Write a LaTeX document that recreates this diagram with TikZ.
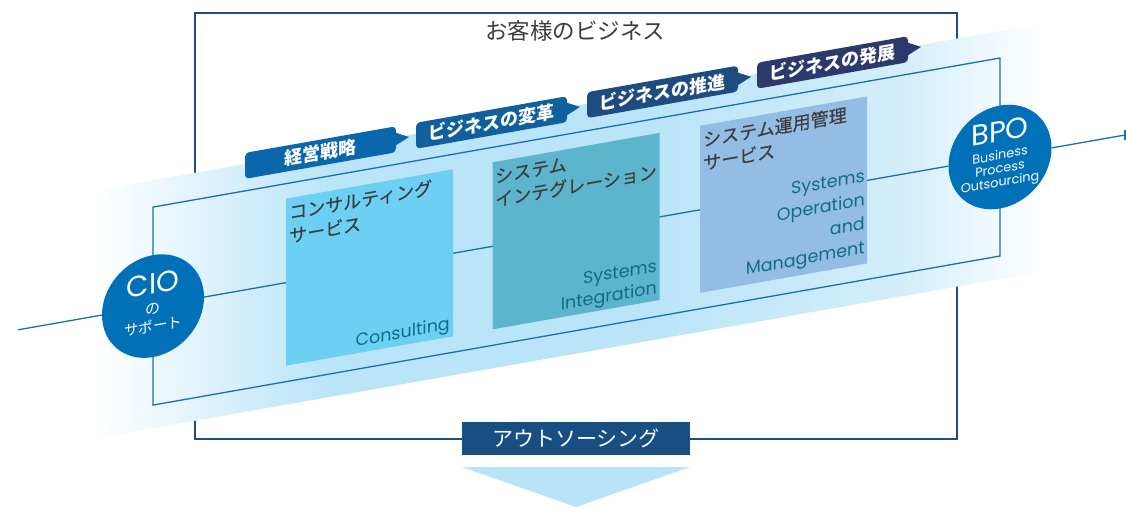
\documentclass[tikz,border=0pt]{standalone}
\usepackage{fontspec}
\setmainfont{Poppins}
\newfontfamily\jp{Noto Sans CJK JP}
\newfontfamily\jpm[FakeBold=0.4]{Noto Sans CJK JP}
\newfontfamily\en{Poppins}
\definecolor{outerc}{HTML}{1D4F84}
\definecolor{linec}{HTML}{1A6EB6}
\definecolor{bandc}{HTML}{BAE4F8}
\definecolor{bandr}{HTML}{D3EEFA}
\definecolor{circc}{HTML}{0070B9}
\definecolor{consc}{HTML}{6CCFF4}
\definecolor{sic}{HTML}{5CB4CD}
\definecolor{soc}{HTML}{93BDE5}
\definecolor{tagA}{HTML}{0B67AB}
\definecolor{tagB}{HTML}{11609E}
\definecolor{tagC}{HTML}{1F4C80}
\definecolor{tagD}{HTML}{2B3A6B}
\definecolor{jtext}{HTML}{3D3D3D}
\definecolor{etext}{HTML}{0F6E87}
\definecolor{outbox}{HTML}{184F82}
\definecolor{arrowc}{HTML}{B9E4F8}
\pgfdeclarehorizontalshading{bandshade}{100bp}{color(0bp)=(white); color(25bp)=(white); color(37.4bp)=(bandc); color(53.7bp)=(bandc); color(67.4bp)=(bandr); color(75bp)=(white); color(100bp)=(white)}
\tikzset{
 jtitle/.style={inner sep=0, text=jtext, font=\jpm\fontsize{18}{18}\selectfont},
 etitle/.style={inner sep=0, text=etext, font=\en\fontsize{17.5}{17.5}\selectfont},
 svcbox/.style={rectangle, minimum width=167pt, minimum height=167pt, inner sep=0},
 tagbox/.style={rectangle, rounded corners=4pt, minimum width=151pt, minimum height=26pt, inner sep=0, text=white, font=\jp\bfseries\fontsize{18}{18}\selectfont},
 hub/.style={circle, fill=circc, inner sep=0},
 conn/.style={draw=linec, line width=1.3pt},
 wtext/.style={inner sep=0, text=white}
}
\newcommand{\stackline}[2]{\makebox[0pt]{\raisebox{#1}{#2}}}
\begin{document}
\begin{tikzpicture}[x=1pt,y=-1pt]
\useasboundingbox (0,0) rectangle (1126,507);
% outer frame
\draw[outerc, line width=2pt] (194.5,13) rectangle (957,438.5);
\node[inner sep=0, text=jtext, font=\jp\fontsize{22.5}{22.5}\selectfont] (title) at (575,31) {お客様のビジネス};

\begin{scope}[yslant=0.176, transform shape]
 \shade[shading=bandshade] (95,207) rectangle (1045,455);
 \draw[conn] (153,234) rectangle (1000,432);
 \node[hub, minimum size=102pt] (cio) at (153,333) {};
 \node[hub, minimum size=103pt] (bpo) at (1000,333) {};
 \coordinate (lend) at (18,333);
 \coordinate (rend) at (1125,333);
 \coordinate (rtop) at (1125,328);
 \coordinate (rbot) at (1125,338);
 \draw[conn] (lend) -- (cio);
 \draw[conn] (cio) -- (bpo);
 \draw[conn] (bpo) -- (rend);
 \draw[conn] (rtop) -- (rbot);
 % hub texts
 \node[wtext, anchor=base] (ciot) at (153,340.7) {\stackline{19.7pt}{\en\fontsize{29}{29}\selectfont CIO}\stackline{0pt}{\jp\fontsize{15}{15}\selectfont の}\stackline{-17.8pt}{\jp\fontsize{14.5}{14.5}\selectfont サポート}};
 \node[wtext, anchor=base] (bpot) at (1000,349) {\stackline{31.4pt}{\en\fontsize{29}{29}\selectfont BPO}\stackline{13.5pt}{\en\fontsize{12.8}{12.8}\selectfont Business}\stackline{0pt}{\en\fontsize{12.8}{12.8}\selectfont Process}\stackline{-13.5pt}{\en\fontsize{12.8}{12.8}\selectfont Outsourcing}};
 % service boxes
 \node[svcbox, fill=consc] (cons) at (369.5,332.5) {};
 \node[svcbox, fill=sic] (si) at (576,332.5) {};
 \node[svcbox, fill=soc] (so) at (783.5,332.5) {};
 \node[jtitle, anchor=base west] (cons1) at (289,270.3) {コンサルティング};
 \node[jtitle, anchor=base west] (cons2) at (289,293.8) {サービス};
 \node[jtitle, anchor=base west] (si1) at (495,270.3) {システム};
 \node[jtitle, anchor=base west] (si2) at (495,293.8) {インテグレーション};
 \node[jtitle, anchor=base west] (so1) at (703,270.3) {システム運用管理};
 \node[jtitle, anchor=base west] (so2) at (703,293.8) {サービス};
 \node[etitle, anchor=base east] (conse) at (450,409) {Consulting};
 \node[etitle, anchor=base east] (sie1) at (657,387) {Systems};
 \node[etitle, anchor=base east] (sie2) at (657,409) {Integration};
 \node[etitle, anchor=base east] (soe1) at (865,334) {Systems};
 \node[etitle, anchor=base east] (soe2) at (865,358) {Operation};
 \node[etitle, anchor=base east] (soe3) at (865,382) {and};
 \node[etitle, anchor=base east] (soe4) at (865,406) {Management};
 % tags
 \fill[tagA] (395,202) -- (409,209) -- (395,215.5) -- cycle;
 \fill[tagB] (566,202) -- (580,209) -- (566,215.5) -- cycle;
 \fill[tagC] (737,202) -- (751,209) -- (737,215.5) -- cycle;
 \fill[tagD] (907,202) -- (921,209) -- (907,215.5) -- cycle;
 \node[tagbox, fill=tagA] (tag1) at (320.5,209) {経営戦略};
 \node[tagbox, fill=tagB] (tag2) at (491.5,209) {ビジネスの変革};
 \node[tagbox, fill=tagC] (tag3) at (662.5,208.5) {ビジネスの推進};
 \node[tagbox, fill=tagD] (tag4) at (832.5,209) {ビジネスの発展};
\end{scope}

% outsourcing
\node[rectangle, fill=outbox, minimum width=228pt, minimum height=32.5pt, inner sep=0, text=white, font=\jp\fontsize{21}{21}\selectfont] (outs) at (576,438.25) {アウトソーシング};
\fill[arrowc] (462,467) -- (690,467) -- (576,507) -- cycle;
\end{tikzpicture}
\end{document}
